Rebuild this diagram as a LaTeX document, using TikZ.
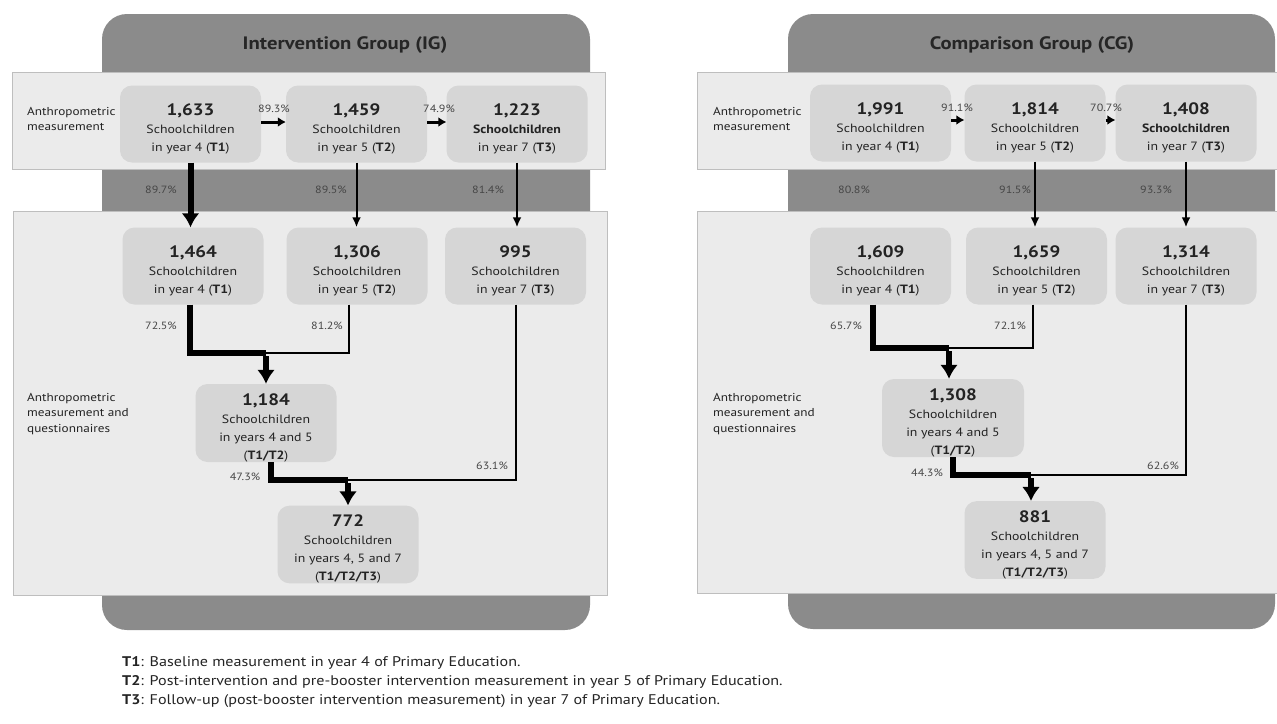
\documentclass[tikz,border=0pt]{standalone}
\usepackage{fontspec}
\setmainfont{PT Sans}[FakeStretch=1.15]
\usetikzlibrary{arrows.meta,calc,positioning}
\definecolor{panelgray}{RGB}{139,139,139}
\definecolor{bandgray}{RGB}{235,235,235}
\definecolor{bandline}{RGB}{190,190,190}
\definecolor{boxgray}{RGB}{214,214,214}
\definecolor{txtdark}{RGB}{35,35,35}
\definecolor{pctgray}{RGB}{70,70,70}
\newcommand{\cntnum}[1]{\rule{0pt}{21pt}{\fontsize{16.5}{19}\selectfont\bfseries #1}}

\begin{document}
\begin{tikzpicture}[x=1pt,y=-1pt,
    panel/.style={fill=panelgray, rounded corners=25pt},
    band/.style={fill=bandgray, draw=bandline, line width=1pt},
    cntbox/.style={fill=boxgray, rounded corners=12pt, minimum width=141pt, minimum height=77pt,
      align=center, text=txtdark, font=\fontsize{12}{18}\selectfont, inner sep=0pt},
    pct/.style={text=pctgray, font=\fontsize{10.5}{12}\selectfont, inner sep=0pt},
    sidelabel/.style={anchor=west, align=left, text=txtdark, font=\fontsize{11.5}{15.5}\selectfont, inner sep=0pt},
    title/.style={text=black!85, font=\fontsize{18}{21}\selectfont\bfseries},
    thinarrow/.style={-{Latex[length=10pt,width=9pt]}, line width=2pt},
    bigarrow/.style={-{Latex[length=14pt,width=18pt]}, line width=6pt},
    sidearrow/.style={-{Latex[length=8pt,width=10pt]}, line width=3pt},
    thinline/.style={line width=2pt},
    thickline/.style={line width=6pt}]
  \useasboundingbox (0,0) rectangle (1277,723);

  % backgrounds
  \fill[panel] (102,14) rectangle (590,630);
  \fill[panel] (788,14) rectangle (1275,629);
  \draw[band] (12,72) rectangle (605,169);
  \draw[band] (13,211) rectangle (607,595);
  \draw[band] (697,72) rectangle (1282,169);
  \draw[band] (697,211) rectangle (1282,593);

  \node[title] (iTitle) at (345,45) {Intervention Group (IG)};
  \node[title] (cTitle) at (1032,45) {Comparison Group (CG)};

  \node[sidelabel] (iSide1) at (27,119) {Anthropometric\\measurement};
  \node[sidelabel] (iSide2) at (27,414) {Anthropometric\\measurement and\\questionnaires};
  \node[sidelabel] (cSide1) at (713,119) {Anthropometric\\measurement};
  \node[sidelabel] (cSide2) at (713,414) {Anthropometric\\measurement and\\questionnaires};

  % intervention group
  \node[cntbox] (iA1) at (190.5,124) {\cntnum{1,633}\\Schoolchildren\\in year 4 (\textbf{T1})};
  \node[cntbox] (iA2) at (356.5,124) {\cntnum{1,459}\\Schoolchildren\\in year 5 (\textbf{T2})};
  \node[cntbox] (iA3) at (517,124) {\cntnum{1,223}\\\textbf{Schoolchildren}\\in year 7 (\textbf{T3})};
  \node[cntbox] (iM1) at (193,266) {\cntnum{1,464}\\Schoolchildren\\in year 4 (\textbf{T1})};
  \node[cntbox] (iM2) at (357,266) {\cntnum{1,306}\\Schoolchildren\\in year 5 (\textbf{T2})};
  \node[cntbox] (iM3) at (515.5,266) {\cntnum{995}\\Schoolchildren\\in year 7 (\textbf{T3})};
  \node[cntbox, minimum height=78pt] (iP) at (266,423) {\cntnum{1,184}\\Schoolchildren\\in years 4 and 5\\(\textbf{T1/T2})};
  \node[cntbox] (iF) at (348,544.5) {\cntnum{772}\\Schoolchildren\\in years 4, 5 and 7\\(\textbf{T1/T2/T3})};
  \coordinate (iJ1) at (266,353);
  \coordinate (iJ2) at (348,480);

  \draw[sidearrow] ([yshift=2pt]iA1.east) -- ([yshift=2pt]iA2.west);
  \draw[sidearrow] ([yshift=2pt]iA2.east) -- ([yshift=2pt]iA3.west);
  \draw[bigarrow] (iA1.south) -- (iA1.south |- iM1.north);
  \draw[thinarrow] (iA2.south) -- (iA2.south |- iM2.north);
  \draw[thinarrow] (iA3.south) -- (iA3.south |- iM3.north);
  \draw[thickline] ([xshift=-3pt]iM1.south) |- (iJ1);
  \draw[thinline] ([xshift=-8pt]iM2.south) |- (iJ1);
  \draw[bigarrow] ([yshift=-3pt]iJ1) -- (iP.north);
  \draw[thickline] ([xshift=5pt]iP.south) |- (iJ2);
  \draw[thinline] (iM3.south) |- (iJ2);
  \draw[bigarrow] ([yshift=-3pt]iJ2) -- (iF.north);

  \node[pct] at (274,109) {89.3\%};
  \node[pct] at (439,109) {74.9\%};
  \node[pct] at (161,190) {89.7\%};
  \node[pct] at (331,190) {89.5\%};
  \node[pct] at (488,190) {81.4\%};
  \node[pct] at (161,326) {72.5\%};
  \node[pct] at (327,326) {81.2\%};
  \node[pct] at (245,477) {47.3\%};
  \node[pct] at (492,466) {63.1\%};

  % comparison group
  \node[cntbox] (cA1) at (880.5,123) {\cntnum{1,991}\\Schoolchildren\\in year 4 (\textbf{T1})};
  \node[cntbox] (cA2) at (1035,123) {\cntnum{1,814}\\Schoolchildren\\in year 5 (\textbf{T2})};
  \node[cntbox] (cA3) at (1186,123) {\cntnum{1,408}\\\textbf{Schoolchildren}\\in year 7 (\textbf{T3})};
  \node[cntbox] (cM1) at (880.5,266) {\cntnum{1,609}\\Schoolchildren\\in year 4 (\textbf{T1})};
  \node[cntbox] (cM2) at (1036.5,266) {\cntnum{1,659}\\Schoolchildren\\in year 5 (\textbf{T2})};
  \node[cntbox] (cM3) at (1186,266) {\cntnum{1,314}\\Schoolchildren\\in year 7 (\textbf{T3})};
  \node[cntbox, minimum width=142pt, minimum height=78pt] (cP) at (953,418) {\cntnum{1,308}\\Schoolchildren\\in years 4 and 5\\(\textbf{T1/T2})};
  \node[cntbox, minimum height=76pt] (cF) at (1035,540) {\cntnum{881}\\Schoolchildren\\in years 4, 5 and 7\\(\textbf{T1/T2/T3})};
  \coordinate (cJ1) at (949,348);
  \coordinate (cJ2) at (1031,475);

  \draw[sidearrow] ([yshift=3pt]cA1.east) -- ([yshift=3pt]cA2.west);
  \draw[sidearrow] ([yshift=3pt]cA2.east) -- ([yshift=3pt]cA3.west);
  \draw[thinarrow] (cA2.south) -- (cA2.south |- cM2.north);
  \draw[thinarrow] (cA3.south) -- (cA3.south |- cM3.north);
  \draw[thickline] ([xshift=-8pt]cM1.south) |- (cJ1);
  \draw[thinline] ([xshift=-4pt]cM2.south) |- (cJ1);
  \draw[bigarrow] ([yshift=-3pt]cJ1) -- (cJ1 |- cP.north);
  \draw[thickline] (cP.south) |- (cJ2);
  \draw[thinline] (cM3.south) |- (cJ2);
  \draw[bigarrow] ([yshift=-3pt]cJ2) -- (cJ2 |- cF.north);

  \node[pct] at (957,108) {91.1\%};
  \node[pct] at (1106,108) {70.7\%};
  \node[pct] at (854,190) {80.8\%};
  \node[pct] at (1015,190) {91.5\%};
  \node[pct] at (1156,190) {93.3\%};
  \node[pct] at (846,326) {65.7\%};
  \node[pct] at (1010,326) {72.1\%};
  \node[pct] at (927,473) {44.3\%};
  \node[pct] at (1163,466) {62.6\%};

  % legend
  \node[anchor=west, align=left, inner sep=0pt, text=txtdark, font=\fontsize{14}{19}\selectfont] (legend) at (122,682)
    {\textbf{T1}: Baseline measurement in year 4 of Primary Education.\\
     \textbf{T2}: Post-intervention and pre-booster intervention measurement in year 5 of Primary Education.\\
     \textbf{T3}: Follow-up (post-booster intervention measurement) in year 7 of Primary Education.};
\end{tikzpicture}
\end{document}
